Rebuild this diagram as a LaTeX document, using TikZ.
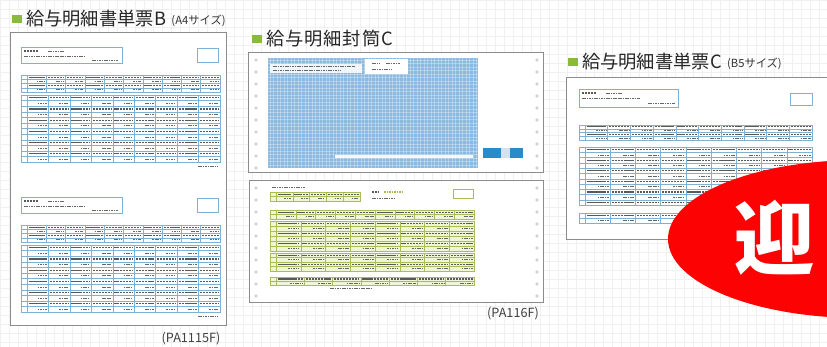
\documentclass[tikz,border=0pt]{standalone}
\usepackage{fontspec}
\newfontfamily\jpfont{Noto Sans CJK JP}
\usetikzlibrary{positioning}

\definecolor{titlegreen}{RGB}{138,186,58}
\definecolor{tabblue}{RGB}{125,178,212}
\definecolor{envblue}{RGB}{140,185,224}
\definecolor{btnblue}{RGB}{40,140,202}
\definecolor{tabgreen}{RGB}{168,188,88}
\definecolor{fillgreen}{RGB}{240,245,212}
\definecolor{badgered}{RGB}{252,2,2}

\tikzset{
  paper/.style={rectangle, draw=black!45, fill=white, line width=0.5pt, inner sep=0pt, anchor=north west},
  greenmark/.style={rectangle, fill=titlegreen, minimum width=2.5mm, minimum height=2.2mm, inner sep=0pt},
  titletext/.style={inner sep=0pt, text=black!85, font=\jpfont\fontsize{13}{15}\selectfont},
  sizetext/.style={inner sep=0pt, text=black!80, font=\jpfont\fontsize{8}{9}\selectfont},
  pagelabel/.style={inner sep=0pt, text=black!75, font=\jpfont\fontsize{9}{10}\selectfont},
  blueline/.style={draw=tabblue, line width=0.35pt},
  greenline/.style={draw=tabgreen, line width=0.35pt},
  markline/.style={draw=black!65, line width=0.8pt, dash pattern=on 1.6pt off 0.5pt},
  thinmark/.style={draw=black!60, line width=0.55pt, dash pattern=on 1.2pt off 0.5pt},
  hole/.style={draw=black!35, line width=0.3pt, fill=white}
}

% x, y, width, rows, row height, columns, line style
\newcommand{\celltable}[7]{%
  \pgfmathsetmacro\cw{(#3-6)/#6}
  \pgfmathtruncatemacro\nrm{#4-1}
  \pgfmathtruncatemacro\ncm{#6-1}
  \foreach \r in {0,...,\nrm}{
    \foreach \c in {0,...,\ncm}{
      \pgfmathsetmacro\cx{#1+6+\c*\cw}
      \pgfmathsetmacro\cy{#2+(\r+0.5)*#5}
      \ifodd\r
        \draw[thinmark] (\cx+\cw*0.5,\cy) -- (\cx+\cw-1.5,\cy);
      \else
        \draw[markline] (\cx+1.5,\cy) -- (\cx+\cw-1.5,\cy);
      \fi
    }
  }
  \draw[#7] (#1,#2) rectangle (#1+#3,#2+#4*#5);
  \foreach \r in {1,...,\nrm} \draw[#7] (#1,#2+\r*#5) -- (#1+#3,#2+\r*#5);
  \foreach \c in {0,...,\ncm} \draw[#7] (#1+6+\c*\cw,#2) -- (#1+6+\c*\cw,#2+#4*#5);
}

\begin{document}
\begin{tikzpicture}[x=0.25mm, y=-0.25mm]
\useasboundingbox (0,0) rectangle (827,347);
\clip (0,0) rectangle (827,347);
\fill[white] (0,0) rectangle (827,347);
\foreach \g in {0,9,...,827} \draw[black!6, line width=0.3pt] (\g,0) -- (\g,347);
\foreach \g in {0,9,...,347} \draw[black!6, line width=0.3pt] (0,\g) -- (827,\g);

% titles
\node (markB) [greenmark] at (17,19) {};
\node (titleB) [titletext, right=0.9mm of markB] {給与明細書単票B};
\node (sizeB) [sizetext, right=1.2mm of titleB, yshift=-0.4mm] {(A4サイズ)};

\node (markE) [greenmark] at (257,39) {};
\node (titleE) [titletext, right=0.9mm of markE, font=\jpfont\fontsize{13}{15}\selectfont\addfontfeature{LetterSpace=5}] {給与明細封筒C};

\node (markC) [greenmark] at (573,62) {};
\node (titleC) [titletext, right=0.9mm of markC] {給与明細書単票C};
\node (sizeC) [sizetext, right=1.2mm of titleC, yshift=-0.4mm] {(B5サイズ)};

% A4 sheet
\node (paperB) [paper, minimum width=54mm, minimum height=73.25mm] at (10,32) {};
\foreach \dy in {0,150}{
  \begin{scope}[yshift=-\dy*0.25mm]
  \draw[blueline] (21,47) rectangle (122,63);
  \draw[markline] (24,51) -- (38,51);
  \draw[thinmark] (48,51) -- (64,51);
  \draw[thinmark] (24,56) -- (84,56);
  \draw[thinmark] (92,60) -- (118,60);
  \draw[blueline] (197,48) rectangle (218,62);
  \celltable{21}{75}{199}{4}{4.25}{10}{blueline}
  \celltable{21}{95}{199}{12}{5.6}{9}{blueline}
  \draw[thinmark] (198,166) -- (218,166);
  \end{scope}
}
\node (labelB) [pagelabel] at (191,339) {(PA1115F)};

% envelope
\node (envC) [paper, minimum width=73.75mm, minimum height=30mm] at (248,52) {};
\node (envBlue) [rectangle, fill=envblue, inner sep=0pt, anchor=north west, minimum width=52.5mm, minimum height=27.5mm] at (268,58) {};
\foreach \g in {270,273.5,...,478} \draw[white, opacity=0.3, line width=0.25pt] (\g,58) -- (\g,168);
\foreach \g in {60,63.5,...,168} \draw[white, opacity=0.3, line width=0.25pt] (268,\g) -- (478,\g);
\fill[white, opacity=0.85] (270,64) rectangle (362,73);
\draw[thinmark] (273,66.5) -- (355,66.5);
\draw[thinmark] (273,70.5) -- (340,70.5);
\fill[white] (365,59) rectangle (408,74);
\draw[thinmark] (372,63) -- (380,63);
\draw[thinmark] (386,63) -- (400,63);
\draw[thinmark] (372,69) -- (392,69);
\fill[white, opacity=0.9] (335,155) rectangle (473,158);
\node (btnA) [rectangle, fill=btnblue, inner sep=0pt, anchor=north west, minimum width=4.5mm, minimum height=2.5mm] at (483,148) {};
\node (btnGap) [rectangle, fill=envblue!40, inner sep=0pt, anchor=north west, minimum width=2.25mm, minimum height=2.5mm] at (501,148) {};
\node (btnB) [rectangle, fill=btnblue, inner sep=0pt, anchor=north west, minimum width=3.25mm, minimum height=2.5mm] at (510,148) {};
\foreach \y in {60,72,...,168}{
  \draw[hole] (256,\y) circle (1.4);
  \draw[hole] (537,\y) circle (1.4);
}

% continuous form
\node (paperF) [paper, minimum width=73.5mm, minimum height=30.5mm] at (249,180) {};
\foreach \y in {188,200,...,298}{
  \draw[hole] (256,\y) circle (1.4);
  \draw[hole] (537,\y) circle (1.4);
}
\draw[thinmark] (272,187) -- (305,187);
\fill[fillgreen] (270,192) rectangle (360,201);
\celltable{270}{192}{90}{2}{4.5}{5}{greenline}
\draw[tabgreen, line width=0.8pt, dash pattern=on 1.2pt off 0.6pt] (384,192) -- (402,192);
\draw[markline] (372,192) -- (378,192);
\draw[thinmark] (372,198) -- (395,198);
\draw[greenline] (453,189) rectangle (473,198);
\fill[fillgreen] (270,210) rectangle (474,219);
\celltable{270}{210}{204}{2}{4.5}{10}{greenline}
\fill[fillgreen] (270,221) rectangle (474,251);
\celltable{270}{221}{204}{6}{5}{8}{greenline}
\fill[fillgreen] (270,253) rectangle (474,271);
\celltable{270}{253}{204}{4}{4.5}{8}{greenline}
\fill[fillgreen] (270,277) rectangle (474,285);
\celltable{270}{277}{204}{2}{4}{7}{greenline}
\draw[thinmark] (330,288.5) -- (372,288.5);
\node (labelF) [pagelabel] at (513,314) {(PA116F)};

% B5 sheet
\node (paperC) [paper, minimum width=68.5mm, minimum height=40.5mm] at (566,77) {};
\draw[blueline] (579,89) rectangle (678,107);
\draw[markline] (582,93) -- (596,93);
\draw[thinmark] (606,93) -- (622,93);
\draw[thinmark] (582,98) -- (640,98);
\draw[thinmark] (648,103) -- (675,103);
\draw[blueline] (790,93) rectangle (812,105);
\celltable{579}{125}{233}{4}{3.75}{10}{blueline}
\celltable{579}{147}{233}{11}{5.3}{9}{blueline}
\celltable{579}{213}{233}{2}{5}{9}{blueline}

% badge
\fill[badgered] (860,239) ellipse [x radius=192, y radius=79];
\node (badgeText) [inner sep=0pt, text=white, font=\jpfont\bfseries\fontsize{57}{60}\selectfont] at (775,238) {迎};
\end{tikzpicture}
\end{document}
